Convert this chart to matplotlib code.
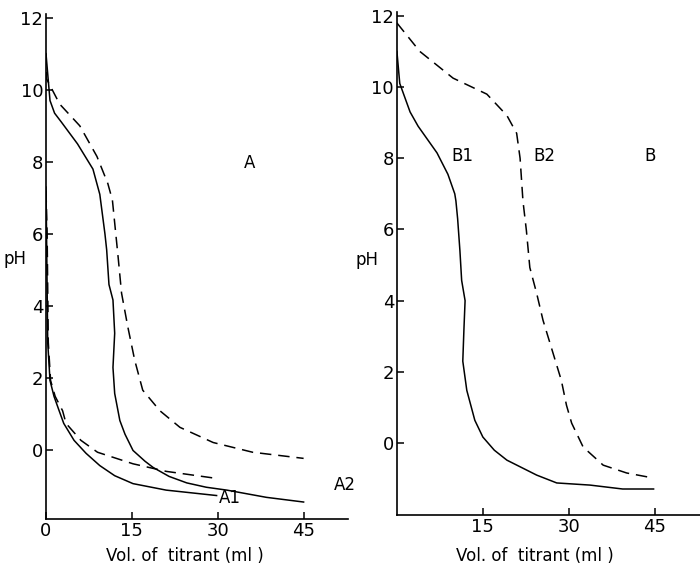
import matplotlib
matplotlib.use("Agg")
import matplotlib.pyplot as plt

# titration curves, panel A (volume of titrant in ml, pH)
a1_solid_x = [0, 0.1, 0.2, 0.3, 0.7, 1.4, 2.3, 3.1, 4.9, 7.0, 9.4, 12.0, 15.2, 21, 29.8]
a1_solid_y = [7.3, 6.0, 4.5, 3.0, 1.94, 1.5, 1.1, 0.75, 0.28, -0.08, -0.42, -0.7, -0.92, -1.1, -1.25]
a1_dash_x = [0, 0.2, 0.3, 0.4, 0.8, 1.6, 2.9, 3.5, 6.1, 9.0, 15.2, 21, 30]
a1_dash_y = [7.2, 6.0, 4.5, 3.0, 1.94, 1.5, 1.1, 0.75, 0.28, -0.05, -0.37, -0.58, -0.78]

a2_solid_x = [0, 0.7, 1.5, 2.7, 5.5, 8.2, 9.4, 10.3, 10.6, 11.0, 11.7, 12.0, 11.7, 12.0,
              12.9, 13.8, 15.2, 17.3, 18.7, 21.5, 24.6, 28, 31.6, 38.5, 45]
a2_solid_y = [11.0, 9.7, 9.35, 9.1, 8.5, 7.8, 7.1, 6.0, 5.56, 4.6, 4.17, 3.25, 2.3, 1.58,
              0.83, 0.45, 0.0, -0.3, -0.47, -0.72, -0.9, -1.02, -1.1, -1.3, -1.43]
a2_dash_x = [0, 0.1, 2.4, 5.9, 8.9, 10.8, 11.6, 12.6, 13.2, 14.3, 15.5, 16.9, 19.9,
             23.4, 29.2, 36.1, 45]
a2_dash_y = [11.0, 10.3, 9.6, 9.0, 8.15, 7.4, 6.94, 5.36, 4.36, 3.42, 2.5, 1.67, 1.1,
             0.64, 0.22, -0.05, -0.22]

# panel B
b1_x = [0, 0.5, 2.3, 3.7, 7.0, 8.9, 10.1, 10.3, 10.6, 11.0, 11.3, 11.9, 11.7, 11.5,
        12.2, 13.6, 15, 17, 19.2, 24.4, 27.9, 33.7, 39.4, 44.8]
b1_y = [11, 10.1, 9.3, 8.9, 8.15, 7.55, 7.0, 6.8, 6.3, 5.4, 4.57, 4.0, 3.2, 2.3,
        1.48, 0.64, 0.17, -0.2, -0.48, -0.9, -1.12, -1.18, -1.29, -1.29]
b2_x = [0, 4, 9.8, 15.7, 19.2, 20.9, 21.5, 22.0, 22.6, 23.2, 24.4, 25.5, 27.3, 28.7,
        29.6, 30.5, 32.5, 36, 40.1, 44.7]
b2_y = [11.8, 11.0, 10.25, 9.8, 9.2, 8.7, 8.0, 6.8, 5.97, 4.93, 4.2, 3.45, 2.5, 1.76,
        1.06, 0.56, -0.11, -0.62, -0.84, -0.98]

y_ticks = [0, 2, 4, 6, 8, 10, 12]
dash = (0, (7.5, 4.5))

fig = plt.figure(figsize=(7, 5.7), dpi=100)
ax1 = fig.add_axes([0.0657, 0.0895, 0.431, 0.886])
ax2 = fig.add_axes([0.567, 0.0965, 0.433, 0.882])


def style(ax, xmax, ymin, xticks):
    ax.set_xlim(0, xmax)
    ax.set_ylim(ymin, 12.1)
    for s in ['top', 'right']:
        ax.spines[s].set_visible(False)
    for s in ['left', 'bottom']:
        ax.spines[s].set_linewidth(1.2)
    ax.set_yticks(y_ticks)
    ax.set_xticks(xticks)
    ax.tick_params(direction='in', length=5, width=1.1, labelsize=13, pad=2)
    ax.set_ylabel('pH', rotation=0, fontsize=12)
    ax.set_xlabel('Vol. of  titrant (ml )', fontsize=12)


style(ax1, 52.7, -1.9, [0, 15, 30, 45])
style(ax2, 52.9, -2.02, [15, 30, 45])
ax1.yaxis.set_label_coords(-0.103, 0.497)
ax2.yaxis.set_label_coords(-0.099, 0.49)
ax1.xaxis.set_label_coords(0.46, -0.056)
ax2.xaxis.set_label_coords(0.455, -0.064)

ax1.plot(a1_solid_x, a1_solid_y, color='black', lw=1.1)
ax1.plot(a1_dash_x, a1_dash_y, color='black', lw=1.1, linestyle=dash)
ax1.plot(a2_solid_x, a2_solid_y, color='black', lw=1.1)
ax1.plot(a2_dash_x, a2_dash_y, color='black', lw=1.1, linestyle=dash)

ax2.plot(b1_x, b1_y, color='black', lw=1.1)
ax2.plot(b2_x, b2_y, color='black', lw=1.1, linestyle=dash)

ax1.text(35.6, 7.97, 'A', fontsize=12, ha='center', va='center')
ax1.text(32.1, -1.33, 'A1', fontsize=12, ha='center', va='center')
ax1.text(52.2, -0.97, 'A2', fontsize=12, ha='center', va='center', clip_on=False)
ax2.text(11.5, 8.07, 'B1', fontsize=12, ha='center', va='center')
ax2.text(25.8, 8.07, 'B2', fontsize=12, ha='center', va='center')
ax2.text(44.2, 8.07, 'B', fontsize=12, ha='center', va='center')

plt.savefig('out.png', dpi=100)
